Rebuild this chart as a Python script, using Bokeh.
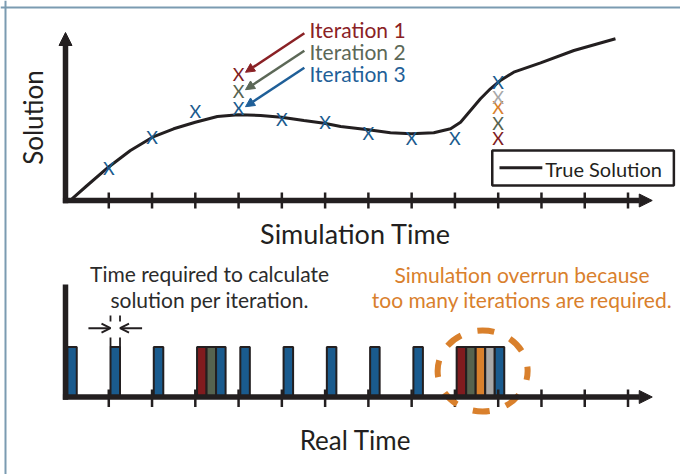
import math
from bokeh.plotting import figure
from bokeh.models import Range1d, Arrow, NormalHead, OpenHead, Span
from bokeh.core.properties import value
from bokeh.embed import file_html
from bokeh.resources import INLINE

# ---------------- data ----------------
# True solution curve: simulation time vs. solution value
true_time = [0.15, 0.5, 0.99, 1.5, 2.01, 2.5, 3.0, 3.51, 3.99, 4.51, 4.99, 5.51, 5.98, 6.36,
             7.0, 7.51, 7.99, 8.51, 8.9, 9.13, 9.36, 9.59, 9.82, 10.05, 10.36, 10.98, 11.75, 12.71]
true_solution = [0.17, 1.5, 3.33, 5.0, 6.33, 7.17, 7.83, 8.4, 8.57, 8.5, 8.33, 8.0, 7.73, 7.4,
                 7.07, 6.77, 6.67, 6.77, 7.17, 7.83, 9.0, 10.17, 11.17, 12.0, 12.83, 13.77, 15.0, 16.17]

# Simulation steps and the solution value found by each iteration at that step
sim_steps = [1, 2, 3, 4, 5, 6, 7, 8, 9, 10]
iteration_values = [
    [3.23],
    [6.33],
    [9.0],
    [12.67, 10.93, 9.23],
    [8.17],
    [7.83],
    [6.77],
    [6.23],
    [6.23],
    [6.25, 7.78, 9.33, 10.4, 11.83],
]
# real-time slot in which each step is computed
slot_starts = [0, 1, 2, 3, 4, 5, 6, 7, 8, 9]
time_ticks = [1, 2, 3, 4, 5, 6, 7, 8, 9, 10, 11, 12, 13]
iteration_labels = ["Iteration 1", "Iteration 2", "Iteration 3"]
legend_label = "True Solution"

# ---------------- styles ----------------
DARK = "#231f20"
ITER_COLORS = ["#801b1e", "#56634f", "#d9802c", "#a8a8a8"]
FINAL_COLOR = "#1a5b8e"
LABEL_COLORS = ["#8a2125", "#5c6857", "#1f5f98"]
ORANGE = "#d9802c"
BORDER = "#7b9bb1"
FONT = "Lato"
BAR_W = 0.22
BAR_OFF = 0.04

p = figure(width=680, height=474,
           x_range=Range1d(-1.5022, 14.2131), y_range=Range1d(-27.4, 20.0),
           output_backend="svg", toolbar_location=None,
           x_axis_location=None, y_axis_location=None,
           min_border=0, outline_line_color=None, background_fill_color="white")
p.extra_y_ranges = {"rt": Range1d(-1.55, 7.93)}
p.xgrid.visible = False
p.ygrid.visible = False

# frame border (top & left)
p.add_layout(Span(location=19.3, dimension="width", line_color=BORDER, line_width=2))
p.add_layout(Span(location=-1.3867, dimension="height", line_color=BORDER, line_width=2))

# ---------------- top: simulation time ----------------
curve = p.line(true_time, true_solution, line_color=DARK, line_width=3)

# axes
p.add_layout(Arrow(end=NormalHead(size=13, fill_color=DARK, line_color=DARK, line_width=1),
                   x_start=0, y_start=-0.28, x_end=0, y_end=16.8,
                   line_color=DARK, line_width=5.5))
p.add_layout(Arrow(end=NormalHead(size=13, fill_color=DARK, line_color=DARK, line_width=1),
                   x_start=-0.06, y_start=0, x_end=13.56, y_end=0,
                   line_color=DARK, line_width=5.5))
p.segment(x0=time_ticks, y0=[0.8] * len(time_ticks), x1=time_ticks, y1=[-0.8] * len(time_ticks),
          line_color=DARK, line_width=2.5)

# iteration markers
mx, my, mc = [], [], []
for step, vals in zip(sim_steps, iteration_values):
    for j, v in enumerate(vals):
        mx.append(step)
        my.append(v)
        mc.append(FINAL_COLOR if j == len(vals) - 1 else ITER_COLORS[j])
p.text(x=mx, y=my, text=["X"] * len(mx), text_color=mc, text_font=value(FONT),
       text_font_size="18px", text_align="center", text_baseline="middle")

# iteration callouts at step 4
step4 = iteration_values[3]
label_centers = [17.08, 14.92, 12.67]
for j, lab in enumerate(iteration_labels):
    tip_y = step4[j] + 0.15
    p.add_layout(Arrow(end=NormalHead(size=9, fill_color=LABEL_COLORS[j], line_color=LABEL_COLORS[j], line_width=1),
                       x_start=5.52, y_start=tip_y + 3.9, x_end=4.16, y_end=tip_y,
                       line_color=LABEL_COLORS[j], line_width=2.5))
    p.text(x=[5.64], y=[label_centers[j]], text=[lab], text_color=LABEL_COLORS[j],
           text_font=value(FONT), text_font_size="21px", text_align="left",
           text_baseline="middle")

# axis titles
p.text(x=[-0.758], y=[8.3], text=["Solution"], angle=math.pi / 2, text_color=DARK,
       text_font=value(FONT), text_font_size="26px", text_align="center", text_baseline="middle")
p.text(x=[6.70], y=[-3.3], text=["Simulation Time"], text_color=DARK,
       text_font=value(FONT), text_font_size="27px", text_align="center", text_baseline="middle")

# legend box for the true solution curve
p.quad(left=[9.863], right=[14.06], top=[5.0], bottom=[1.5], fill_color="white",
       line_color=DARK, line_width=2.5)
p.line([10.03, 11.02], [3.27, 3.27], line_color=DARK, line_width=3)
p.text(x=[11.09], y=[3.2], text=[legend_label], text_color=DARK, text_font=value(FONT),
       text_font_size="20px", text_align="left", text_baseline="middle")

# ---------------- bottom: real time ----------------
bl, br, bc = [], [], []
for slot, vals in zip(slot_starts, iteration_values):
    n = len(vals)
    for j in range(n):
        left = slot + BAR_OFF + j * BAR_W
        bl.append(left)
        br.append(left + BAR_W)
        bc.append(FINAL_COLOR if j == n - 1 else ITER_COLORS[j])
p.quad(left=bl, right=br, bottom=[0] * len(bl), top=[1] * len(bl), fill_color=bc,
       line_color=DARK, line_width=2, y_range_name="rt")

p.segment(x0=[0], y0=[-0.055], x1=[0], y1=[2.25], line_color=DARK, line_width=5.5, y_range_name="rt")
p.add_layout(Arrow(end=NormalHead(size=13, fill_color=DARK, line_color=DARK, line_width=1),
                   x_start=-0.06, y_start=0, x_end=13.56, y_end=0,
                   line_color=DARK, line_width=5.5, y_range_name="rt"))
p.segment(x0=time_ticks, y0=[0.15] * len(time_ticks), x1=time_ticks, y1=[-0.2] * len(time_ticks),
          line_color=DARK, line_width=2.5, y_range_name="rt")

# dimension arrows around the second bar
b2l = bl[1]
b2r = br[1]
p.segment(x0=[b2l, b2r, b2l, b2r], y0=[1.0, 1.0, 1.51, 1.51], x1=[b2l, b2r, b2l, b2r],
          y1=[1.19, 1.19, 1.63, 1.63], line_color=DARK, line_width=1.8, y_range_name="rt")
p.add_layout(Arrow(end=OpenHead(size=9, line_color=DARK, line_width=2),
                   x_start=0.53, y_start=1.376, x_end=b2l, y_end=1.376,
                   line_color=DARK, line_width=2, y_range_name="rt"))
p.add_layout(Arrow(end=OpenHead(size=9, line_color=DARK, line_width=2),
                   x_start=1.77, y_start=1.376, x_end=b2r, y_end=1.376,
                   line_color=DARK, line_width=2, y_range_name="rt"))

p.text(x=[3.33, 3.33], y=[2.464, 1.954],
       text=["Time required to calculate", "solution per iteration."],
       text_color="#2b2b2b", text_font=value(FONT), text_font_size="21px",
       text_align="center", text_baseline="middle", y_range_name="rt")
p.text(x=[10.55, 10.55], y=[2.446, 1.956],
       text=["Simulation overrun because", "too many iterations are required."],
       text_color=ORANGE, text_font=value(FONT), text_font_size="21px",
       text_align="center", text_baseline="middle", y_range_name="rt")
p.text(x=[6.70], y=[-0.86], text=["Real Time"], text_color=DARK,
       text_font=value(FONT), text_font_size="26px", text_align="center",
       text_baseline="middle", y_range_name="rt")

# overrun highlight around the last slot
last_left = bl[-len(iteration_values[-1])]
last_right = br[-1]
p.ellipse(x=[(last_left + last_right) / 2 + 0.05], y=[0.52], width=90, height=81,
          width_units="screen", height_units="screen",
          fill_alpha=0, line_color=ORANGE, line_width=6, line_dash="17 17",
          line_dash_offset=8, y_range_name="rt")

open("out.html", "w").write(file_html(p, INLINE))
